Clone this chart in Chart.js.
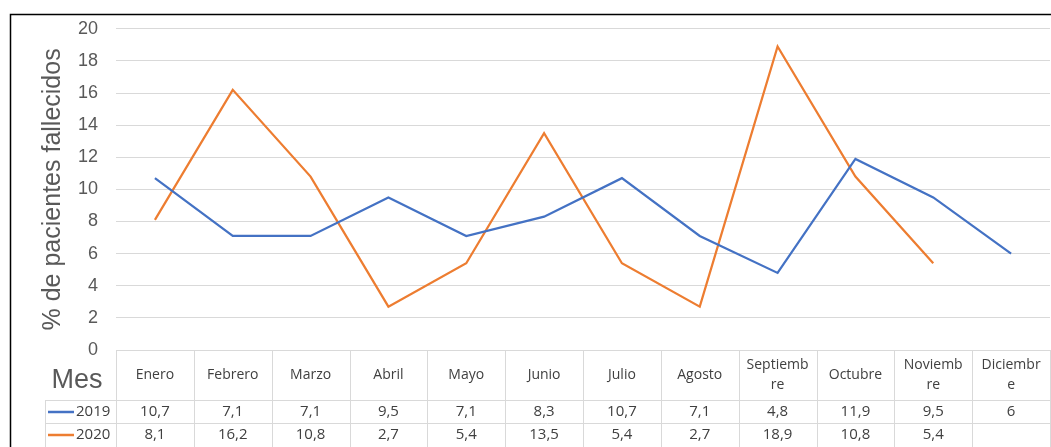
<!DOCTYPE html>
<html>
<head>
<meta charset="utf-8">
<script src="https://cdn.jsdelivr.net/npm/chart.js@4.4.1/dist/chart.umd.min.js"></script>
<style>
  html, body { margin: 0; padding: 0; background: #fff; }
  #wrap { width: 1051px; height: 447px; position: relative; }
</style>
</head>
<body>
<div id="wrap"><canvas id="c"></canvas></div>
<script>
// data
const months = ["Enero", "Febrero", "Marzo", "Abril", "Mayo", "Junio", "Julio", "Agosto",
  ["Septiemb", "re"], "Octubre", ["Noviemb", "re"], ["Diciembr", "e"]]
const values2019 = [10.7, 7.1, 7.1, 9.5, 7.1, 8.3, 10.7, 7.1, 4.8, 11.9, 9.5, 6]
const values2020 = [8.1, 16.2, 10.8, 2.7, 5.4, 13.5, 5.4, 2.7, 18.9, 10.8, 5.4, null]
const yTicks = [0, 2, 4, 6, 8, 10, 12, 14, 16, 18, 20]

const BLUE = "#4472C4"
const ORANGE = "#ED7D31"
const GRID = "#D9D9D9"
const TEXT = "#404040"

const fmt = (v) => (v === null ? "" : String(v).replace(".", ","))

// draws the outer frame and the Excel-style data table under the plot
const tablePlugin = {
  id: "dataTable",
  afterDraw(chart) {
    const { ctx, chartArea } = chart
    const x = chart.scales.x
    const top = chartArea.bottom
    const headBottom = top + 50
    const row1 = headBottom + 23
    const bottom = chart.height
    const legendLeft = 45
    const catW = (chartArea.right - chartArea.left) / months.length

    ctx.save()
    ctx.strokeStyle = GRID
    ctx.lineWidth = 1
    ctx.beginPath()
    // horizontal lines
    ctx.moveTo(chartArea.left, top + 0.5); ctx.lineTo(chartArea.right, top + 0.5)
    ctx.moveTo(legendLeft, headBottom + 0.5); ctx.lineTo(chartArea.right, headBottom + 0.5)
    ctx.moveTo(legendLeft, row1 + 0.5); ctx.lineTo(chartArea.right, row1 + 0.5)
    // vertical lines
    ctx.moveTo(legendLeft + 0.5, headBottom); ctx.lineTo(legendLeft + 0.5, bottom)
    for (let i = 0; i <= months.length; i++) {
      const xx = Math.round(chartArea.left + i * catW) + 0.5
      ctx.moveTo(xx, top); ctx.lineTo(xx, bottom)
    }
    ctx.stroke()

    // header labels
    ctx.fillStyle = TEXT
    ctx.textAlign = "center"
    ctx.textBaseline = "middle"
    ctx.font = "14px 'Open Sans', sans-serif"
    months.forEach((m, i) => {
      const cx = x.getPixelForValue(i)
      if (Array.isArray(m)) {
        ctx.fillText(m[0], cx, top + 15)
        ctx.fillText(m[1], cx, top + 35)
      } else {
        ctx.fillText(m, cx, top + 25)
      }
    })

    // values
    const rows = [[values2019, headBottom + 12], [values2020, row1 + 12]]
    ctx.font = "15px 'Open Sans', sans-serif"
    rows.forEach(([vals, y]) => {
      vals.forEach((v, i) => ctx.fillText(fmt(v), x.getPixelForValue(i), y))
    })

    // legend keys
    const keys = [[BLUE, "2019", headBottom + 12], [ORANGE, "2020", row1 + 12]]
    keys.forEach(([col, label, y]) => {
      ctx.strokeStyle = col
      ctx.lineWidth = 2.5
      ctx.beginPath()
      ctx.moveTo(48, y); ctx.lineTo(74, y)
      ctx.stroke()
      ctx.textAlign = "left"
      ctx.fillStyle = TEXT
      ctx.fillText(label, 76, y)
    })

    // "Mes" label
    ctx.fillStyle = "#595959"
    ctx.font = "27px 'Liberation Sans', sans-serif"
    ctx.textAlign = "center"
    ctx.fillText("Mes", 77, top + 31)

    // outer frame
    ctx.strokeStyle = "#000"
    ctx.lineWidth = 1.5
    ctx.beginPath()
    ctx.moveTo(10.5, chart.height); ctx.lineTo(10.5, 14.5); ctx.lineTo(chart.width, 14.5)
    ctx.stroke()
    ctx.restore()
  },
}

new Chart(document.getElementById("c"), {
  type: "line",
  data: {
    labels: months,
    datasets: [
      { label: "2019", data: values2019, borderColor: BLUE, backgroundColor: BLUE },
      { label: "2020", data: values2020, borderColor: ORANGE, backgroundColor: ORANGE },
    ],
  },
  options: {
    responsive: true,
    maintainAspectRatio: false,
    animation: false,
    layout: { padding: { left: 30, right: 1, top: 18, bottom: 97 } },
    elements: {
      line: { borderWidth: 2.25, tension: 0 },
      point: { radius: 0, hoverRadius: 0 },
    },
    plugins: { legend: { display: false }, tooltip: { enabled: false } },
    scales: {
      x: { display: false, offset: true },
      y: {
        min: 0,
        max: 20,
        afterBuildTicks: (scale) => { scale.ticks = yTicks.map((v) => ({ value: v })) },
        afterFit: (scale) => { scale.width = 86 },
        grid: { color: GRID, drawTicks: false },
        border: { display: false },
        ticks: {
          color: "#595959",
          padding: 18,
          font: { size: 18, family: "'Liberation Sans', sans-serif" },
        },
        title: {
          display: true,
          text: "% de pacientes fallecidos",
          color: "#595959",
          padding: { top: 8, bottom: 0 },
          font: { size: 25, family: "'Liberation Sans', Arial, sans-serif" },
        },
      },
    },
  },
  plugins: [tablePlugin],
})
</script>
</body>
</html>
